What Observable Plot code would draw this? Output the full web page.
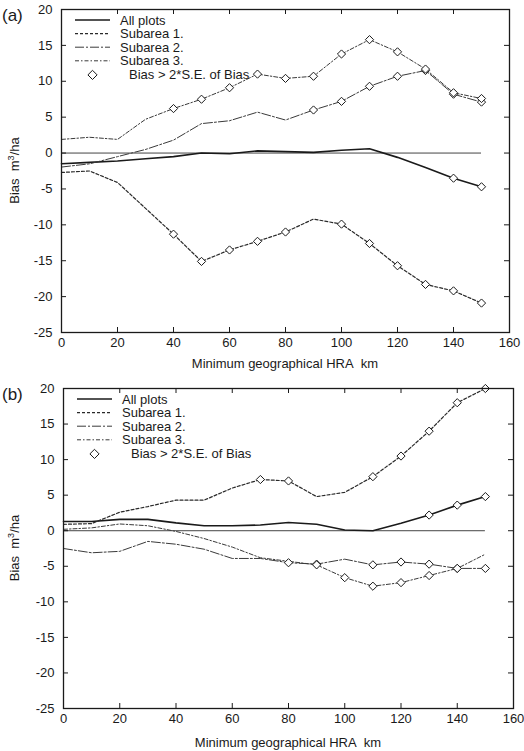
<!DOCTYPE html>
<html>
<head>
<meta charset="utf-8">
<script src="https://cdn.jsdelivr.net/npm/d3@7"></script>
<script src="https://cdn.jsdelivr.net/npm/@observablehq/plot@0.6"></script>
<style>
  html, body { margin: 0; padding: 0; background: #fff; }
  #wrap { position: relative; width: 524px; height: 751px; overflow: hidden; }
  #wrap svg { position: absolute; left: 0; }
</style>
</head>
<body>
<div id="wrap"></div>
<script>
// ---- data ----
const hra = [0, 10, 20, 30, 40, 50, 60, 70, 80, 90, 100, 110, 120, 130, 140, 150];
const xTicks = [0, 20, 40, 60, 80, 100, 120, 140, 160];
const yTicks = [-25, -20, -15, -10, -5, 0, 5, 10, 15, 20];
const seriesNames = ["All plots", "Subarea 1.", "Subarea 2.", "Subarea 3."];
const markerLabel = "Bias > 2*S.E. of Bias";
const xTitle = "Minimum geographical HRA\u00a0 km";

// panel (a)
const allA  = [-1.5, -1.3, -1.1, -0.8, -0.5, 0.0, -0.1, 0.3, 0.2, 0.1, 0.4, 0.6, -0.6, -2.0, -3.5, -4.7];
const sub1A = [-2.7, -2.5, -4.1, -7.7, -11.3, -15.1, -13.5, -12.3, -11.0, -9.2, -9.9, -12.6, -15.7, -18.3, -19.2, -20.9];
const sub2A = [-1.95, -1.5, -0.5, 0.5, 1.8, 4.1, 4.5, 5.7, 4.6, 6.0, 7.2, 9.3, 10.7, 11.5, 8.2, 7.1];
const sub3A = [1.9, 2.2, 1.9, 4.7, 6.2, 7.5, 9.1, 11.0, 10.4, 10.7, 13.8, 15.8, 14.1, 11.7, 8.4, 7.6];
const sigAllA  = [140, 150];
const sigSub1A = [40, 50, 60, 70, 80, 100, 110, 120, 130, 140, 150];
const sigSub2A = [90, 100, 110, 120, 130, 140, 150];
const sigSub3A = [40, 50, 60, 70, 80, 90, 100, 110, 120, 130, 140, 150];

// panel (b)
const allB  = [1.3, 1.3, 1.6, 1.6, 1.1, 0.7, 0.7, 0.8, 1.15, 0.9, 0.1, 0.0, 1.05, 2.2, 3.6, 4.8];
const sub1B = [0.9, 1.0, 2.6, 3.4, 4.3, 4.3, 6.0, 7.2, 7.0, 4.8, 5.4, 7.6, 10.5, 14.0, 18.0, 20.0];
const sub2B = [-2.5, -3.1, -2.9, -1.5, -1.9, -2.6, -3.9, -3.9, -4.5, -4.7, -4.0, -4.8, -4.4, -4.7, -5.3, -5.3];
const sub3B = [0.2, 0.4, 0.95, 0.7, -0.1, -1.1, -2.3, -3.8, -4.3, -4.8, -6.6, -7.8, -7.3, -6.3, -5.3, -3.3];
const sigAllB  = [130, 140, 150];
const sigSub1B = [70, 80, 110, 120, 130, 140, 150];
const sigSub2B = [80, 90, 110, 120, 130, 140, 150];
const sigSub3B = [90, 100, 110, 120, 130, 140];

// ---- styles ----
const FONT = "'Liberation Sans', Arial, Helvetica, sans-serif";
const styles = [
  {stroke: "#1a1a1a", strokeWidth: 1.6, dash: null},
  {stroke: "#2a2a2a", strokeWidth: 1.2, dash: "3,2"},
  {stroke: "#3a3a3a", strokeWidth: 1.0, dash: "9,2,2,2"},
  {stroke: "#3a3a3a", strokeWidth: 1.0, dash: "4,2,1.5,2"}
];

function rows(ys, sig) {
  return hra.map((x, i) => ({x, y: ys[i], sig: sig.includes(x)}));
}

function panel({series, sigs, top, height, mt, mb, ml, mr, tag}) {
  const plotW = 524 - ml - mr;
  const plotH = height - mt - mb;
  const data = series.map((s, k) => rows(s, sigs[k]));
  const marks = [
    Plot.ruleY([0], {x1: hra[0], x2: hra[hra.length - 1], stroke: "#444", strokeWidth: 1}),
    ...data.map((d, k) => Plot.line(d, {x: "x", y: "y", stroke: styles[k].stroke, strokeWidth: styles[k].strokeWidth, strokeDasharray: styles[k].dash})),
    ...data.map(d => Plot.dot(d.filter(r => r.sig), {x: "x", y: "y", symbol: "diamond2", r: 3.7, fill: "white", stroke: "#1a1a1a", strokeWidth: 1})),
    Plot.frame({stroke: "#1a1a1a", strokeWidth: 1.3}),
    Plot.tickX(xTicks, {x: d => d, insetTop: plotH - 5, stroke: "#1a1a1a"}),
    Plot.tickX(xTicks, {x: d => d, insetBottom: plotH - 5, stroke: "#1a1a1a"}),
    Plot.tickY(yTicks, {y: d => d, insetRight: plotW - 5, stroke: "#1a1a1a"}),
    Plot.tickY(yTicks, {y: d => d, insetLeft: plotW - 5, stroke: "#1a1a1a"})
  ];
  const svg = Plot.plot({
    width: 524, height,
    marginTop: mt, marginBottom: mb, marginLeft: ml, marginRight: mr,
    style: {fontFamily: FONT, fontSize: "13px", color: "#1a1a1a", background: "transparent", overflow: "visible"},
    x: {domain: [0, 160], ticks: xTicks, tickSize: 0, tickPadding: 5, label: null, tickFormat: d => String(d)},
    y: {domain: [-25, 20], ticks: yTicks, tickSize: 0, tickPadding: 9, label: null, tickFormat: d => String(d)},
    marks
  });
  svg.style.top = top + "px";
  const s = d3.select(svg);
  // panel tag
  s.append("text").attr("x", 2).attr("y", mt + 12).attr("text-anchor", "start").attr("font-family", FONT)
    .attr("font-size", 17).attr("fill", "#1a1a1a").text(tag);
  // y title
  const cy = mt + plotH / 2;
  const yt = s.append("text").attr("transform", `translate(19,${cy}) rotate(-90)`).attr("text-anchor", "middle")
    .attr("font-family", FONT).attr("font-size", 13).attr("fill", "#1a1a1a");
  yt.append("tspan").text("Bias\u00a0\u00a0m");
  yt.append("tspan").attr("dy", -5).attr("font-size", 9).text("3");
  yt.append("tspan").attr("dy", 5).text("/ha");
  // x title
  s.append("text").attr("x", ml + plotW / 2).attr("y", height - 4).attr("text-anchor", "middle")
    .attr("font-family", FONT).attr("font-size", 13).attr("fill", "#1a1a1a").text(xTitle);
  // legend
  const lx0 = ml + 14, lx1 = ml + 49, tx = ml + 59;
  const ly0 = mt + 11, dy = 13.6;
  const lg = s.append("g").attr("font-family", FONT).attr("font-size", 13).attr("fill", "#1a1a1a").attr("text-anchor", "start");
  seriesNames.forEach((name, k) => {
    const y = ly0 + k * dy;
    lg.append("line").attr("x1", lx0).attr("x2", lx1).attr("y1", y).attr("y2", y)
      .attr("stroke", styles[k].stroke).attr("stroke-width", styles[k].strokeWidth)
      .attr("stroke-dasharray", styles[k].dash);
    lg.append("text").attr("x", tx).attr("y", y).attr("dy", "0.35em").text(name);
  });
  const yb = ly0 + 4 * dy + 0.5;
  const cx = (lx0 + lx1) / 2;
  lg.append("path").attr("d", `M${cx},${yb - 4.6}L${cx + 4.6},${yb}L${cx},${yb + 4.6}L${cx - 4.6},${yb}Z`)
    .attr("fill", "white").attr("stroke", "#1a1a1a").attr("stroke-width", 1);
  lg.append("text").attr("x", tx + 9).attr("y", yb).attr("dy", "0.35em").text(markerLabel);
  return svg;
}

const wrap = document.getElementById("wrap");
wrap.appendChild(panel({
  series: [allA, sub1A, sub2A, sub3A], sigs: [sigAllA, sigSub1A, sigSub2A, sigSub3A],
  top: 0, height: 372, mt: 9, mb: 40, ml: 61, mr: 15, tag: "(a)"
}));
wrap.appendChild(panel({
  series: [allB, sub1B, sub2B, sub3B], sigs: [sigAllB, sigSub1B, sigSub2B, sigSub3B],
  top: 372, height: 379, mt: 16, mb: 43, ml: 63, mr: 11, tag: "(b)"
}));
</script>
</body>
</html>
